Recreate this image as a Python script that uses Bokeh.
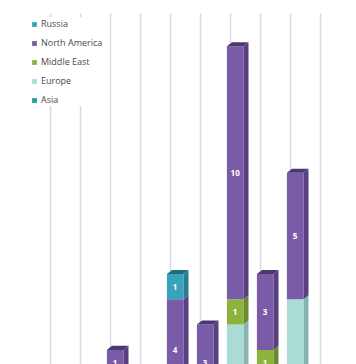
from bokeh.plotting import figure
from bokeh.models import Range1d, Legend, LegendItem
from bokeh.embed import file_html
from bokeh.resources import INLINE
from bokeh.core.properties import value

# ---- data (x labels are cropped out of the reference) ----
categories = list(range(10))
series_names = ["Asia", "Europe", "Middle East", "North America", "Russia"]  # bottom -> top
asia = [0, 0, 1, 0, 0, 0, 0, 0, 0, 0]
europe = [0, 0, 0, 0, 0, 0, 3, 1, 4, 0]
middle_east = [0, 0, 0, 0, 0, 0, 1, 1, 0, 0]
north_america = [0, 0, 1, 0, 4, 3, 10, 3, 5, 0]
russia = [0, 0, 0, 0, 1, 0, 0, 0, 0, 0]
legend_order = ["Russia", "North America", "Middle East", "Europe", "Asia"]
labelled_series = ["Middle East", "North America", "Russia"]

series_values = {"Asia": asia, "Europe": europe, "Middle East": middle_east,
                 "North America": north_america, "Russia": russia}

front_col = {"Asia": "#1f9e96", "Europe": "#aadcd5", "Middle East": "#8db33f",
             "North America": "#7a5ba7", "Russia": "#38a4bc"}
side_col = {"Asia": "#17776f", "Europe": "#86b5ae", "Middle East": "#6c8a2e",
            "North America": "#573f80", "Russia": "#2a7d8f"}
top_col = {"Asia": "#13625c", "Europe": "#78a39d", "Middle East": "#5e7a27",
           "North America": "#4d3673", "Russia": "#246c7c"}

# ---- style constants ----
OFF = -0.12     # front face offset from category position
W = 0.55        # front face width
DX = 0.17       # depth offset (x)
DY = 0.16       # depth offset (y)
GRID_TOP = 15.3

p = figure(width=356, height=364, output_backend="svg", toolbar_location=None,
           x_range=Range1d(-1.6667, 10.2), y_range=Range1d(1.423, 15.81),
           x_axis_location=None, y_axis_location=None, min_border=0)
p.grid.visible = False
p.outline_line_color = None
p.background_fill_color = "white"
p.border_fill_color = "white"

p.segment(x0=categories, y0=[0] * len(categories), x1=categories, y1=[GRID_TOP] * len(categories),
          line_color="#d4dae7", line_width=1.5)

bottoms = [0.0] * len(categories)
tops_name = [None] * len(categories)
for name in series_names:
    vals = series_values[name]
    for i, v in enumerate(vals):
        if v > 0:
            tops_name[i] = name

front_renderers = {}
lx, ly, lt = [], [], []
caps = {}
for name in series_names:
    vals = series_values[name]
    L, R, B, T = [], [], [], []
    sx, sy = [], []
    for i, v in enumerate(vals):
        if v <= 0:
            continue
        b = bottoms[i]
        t = b + v
        l = categories[i] + OFF
        r = l + W
        L.append(l); R.append(r); B.append(b); T.append(t)
        sx.append([r, r + DX, r + DX, r])
        sy.append([b, b + DY, t + DY, t])
        if name in labelled_series:
            lx.append((l + r) / 2); ly.append((b + t) / 2); lt.append(str(v))
        if tops_name[i] == name:
            caps.setdefault(name, ([], []))
            caps[name][0].append([l, l + DX, r + DX, r])
            caps[name][1].append([t, t + DY, t + DY, t])
        bottoms[i] = t
    p.patches(xs=sx, ys=sy, fill_color=side_col[name], line_color=None)
    front_renderers[name] = p.quad(left=L, right=R, bottom=B, top=T,
                                   fill_color=front_col[name], line_color=None)

for name, (cx, cy) in caps.items():
    p.patches(xs=cx, ys=cy, fill_color=top_col[name], line_color=None)

p.text(x=lx, y=ly, text=lt, text_align="center", text_baseline="middle",
       text_color="white", text_font_size="8px", text_font_style="bold",
       text_font=value("Open Sans"))

items = [LegendItem(label=n, renderers=[front_renderers[n]]) for n in legend_order]
legend = Legend(items=items, location=(31, 258), orientation="vertical",
                glyph_width=6, glyph_height=6, label_height=10, label_standoff=4,
                spacing=6, padding=2, margin=0,
                label_text_font="Open Sans", label_text_font_size="9px",
                label_text_color="#4a4a4a",
                background_fill_color="white", background_fill_alpha=1.0,
                border_line_color=None)
p.add_layout(legend, "center")

open("out.html", "w").write(file_html(p, INLINE))
